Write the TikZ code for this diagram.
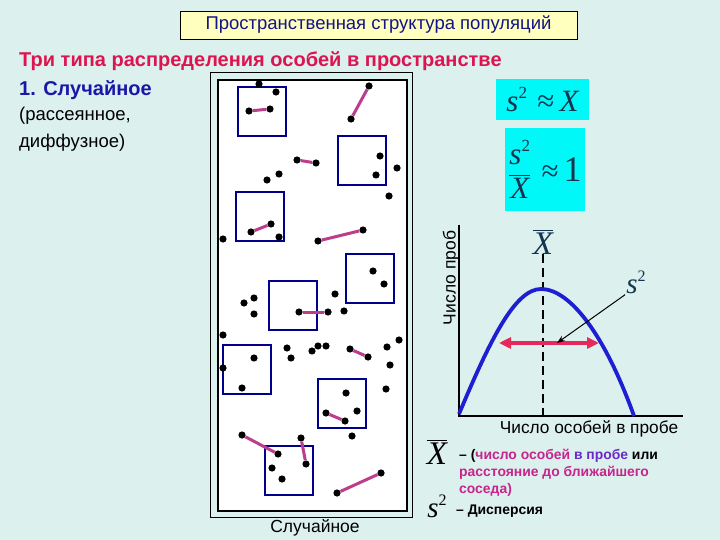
\documentclass[tikz,border=0pt]{standalone}
\usepackage{fontspec}
\setmainfont{Liberation Sans}
\newfontfamily\serifmath{Liberation Serif}
\usetikzlibrary{arrows.meta,positioning}
\definecolor{Paper}{HTML}{DCF0EE}
\definecolor{Cream}{HTML}{FFFFBE}
\definecolor{Navy}{HTML}{14148A}
\definecolor{Crimson}{HTML}{DC1450}
\definecolor{Royal}{HTML}{1818A8}
\definecolor{Frame}{HTML}{00008C}
\definecolor{Bond}{HTML}{BE3C8C}
\definecolor{Curve}{HTML}{1E1ED2}
\definecolor{Spread}{HTML}{E6285A}
\definecolor{Cyan}{HTML}{00F8F8}
\definecolor{Formula}{HTML}{143450}
\definecolor{Magenta}{HTML}{C8248C}
\definecolor{Violet}{HTML}{6A2AC8}
\newcommand{\fsize}[1]{\fontsize{#1}{#1}\selectfont}
\newcommand{\sqr}[2]{{\serifmath\itshape s\raisebox{#2}{\upshape\fsize{#1}2}}}
\newcommand{\xbar}[1]{\leavevmode\vbox{\hrule height #1\kern 2pt\hbox{\serifmath\itshape X}}}
\tikzset{
  titlebox/.style={
    draw=black,fill=Cream,minimum width=397pt,minimum height=28pt,
    font=\fsize{18.5},text=Navy
  },
  formbox/.style={fill=Cyan,inner sep=0pt,text=Formula,font=\serifmath\fsize{31}},
  quadrat/.style={draw=Frame,line width=1.8pt},
  individ/.style={circle,fill=black,inner sep=0pt,minimum size=7.2pt},
  bond/.style={draw=Bond,line width=3pt},
  graphaxis/.style={line width=2.6pt,draw=black},
  curve/.style={line width=3.8pt,draw=Curve},
  spread/.style={{Triangle[length=12pt,width=11pt]}-{Triangle[length=12pt,width=11pt]},
    line width=3.5pt,draw=Spread},
  pointer/.style={-{Stealth[length=8pt,width=6pt]},line width=1pt,draw=black},
  legend/.style={anchor=base west,inner sep=0pt,font=\fsize{13.9}\bfseries}
}

\begin{document}
\begin{tikzpicture}[x=1pt,y=-1pt]
  \useasboundingbox (0,0) rectangle (720,540);
  \fill[Paper] (0,0) rectangle (720,540);

  \node[titlebox] (title) at (378.5,25) {Пространственная структура популяций};
  \node[anchor=base west,inner sep=0pt,font=\fsize{20}\bfseries,text=Crimson] (types) at (19,67)
    {Три типа распределения особей в пространстве};
  \node[anchor=base west,inner sep=0pt,font=\fsize{20}\bfseries,text=Royal] (random) at (19,96) {1. Случайное};
  \node[anchor=base west,inner sep=0pt,font=\fsize{18.5}] (alias1) at (19,121) {(рассеянное,};
  \node[anchor=base west,inner sep=0pt,font=\fsize{18.5}] (alias2) at (19,148) {диффузное)};

  % sample plot
  \draw[line width=0.8pt] (210,72) rectangle (412,517);
  \fill[white] (218,80) rectangle (407,511);
  \draw[line width=2.6pt] (218,80) rectangle (407,511);
  \foreach \qx/\qy in {238/87,338/136,236/192,346/254,269/281,223/345,318/379,265/446}
    \draw[quadrat] (\qx,\qy) rectangle +(48,49);
  \foreach \n/\px/\py in {a1/249/111,a2/270/109,b1/369/86,b2/351/119,c1/297/160,c2/316/163,
      e1/251/232,e2/271/224,f1/318/241,f2/363/230,g1/299/312,g2/328/312,h1/350/349,h2/368/357,
      k1/326/413,k2/345/421,m1/242/435,m2/278/454,n1/301/438,n2/306/464,p1/381/473,p2/337/493}
    \node[individ] (\n) at (\px,\py) {};
  \foreach \px/\py [count=\i] in {259/84,276/92,279/174,267/180,380/156,376/175,397/168,389/196,
      279/237,223/239,373/271,384/284,335/294,254/298,244/303,254/314,344/311,223/335,287/348,
      291/358,312/351,318/346,326/346,387/347,399/340,390/365,254/358,223/368,242/388,386/389,
      346/393,357/411,352/436,272/468,282/479}
    \node[individ] (d\i) at (\px,\py) {};
  \draw[bond] (a1) -- (a2);
  \draw[bond] (b1) -- (b2);
  \draw[bond] (c1) -- (c2);
  \draw[bond] (e1) -- (e2);
  \draw[bond] (f1) -- (f2);
  \draw[bond] (g1) -- (g2);
  \draw[bond] (h1) -- (h2);
  \draw[bond] (k1) -- (k2);
  \draw[bond] (m1) -- (m2);
  \draw[bond] (n1) -- (n2);
  \draw[bond] (p1) -- (p2);
  \node[font=\fsize{17.5}] (plotname) at (315,528) {Случайное};

  % formulas
  \node[formbox,minimum width=93pt,minimum height=41pt] (form1) at (542.5,99.5)
    {\itshape s\raisebox{13pt}{\upshape\fsize{17}2}\,\,\upshape≈\,\itshape X};
  \node[formbox,minimum width=80pt,minimum height=83pt] (form2) at (545,169.5)
    {$\displaystyle\frac{\hbox{\itshape s\raisebox{13pt}{\upshape\fsize{17}2}}}{\hbox{\itshape X}}$\,\,≈\,{\fsize{36}1}};

  % distribution
  \coordinate (origin) at (459,416);
  \coordinate (ytop) at (459,225);
  \coordinate (xend) at (683,416);
  \draw[graphaxis] (ytop) -- (origin) -- (xend);
  \node[rotate=90,font=\fsize{17.5}] (ylab) at (451,278) {Число проб};
  \node[anchor=base,font=\fsize{17.3}] (xlab) at (589,433) {Число особей в пробе};
  \node[inner sep=0pt,text=Formula,font=\fsize{33}] (mean) at (543,242) {\xbar{0.7pt}};
  \draw[graphaxis,dash pattern=on 9pt off 5pt] (mean.south) -- (mean.south |- origin);
  \coordinate (left) at (459,414);
  \coordinate (peak) at (541,289);
  \coordinate (right) at (634,416);
  \draw[curve] (left) .. controls (490,340) and (515,289) .. (peak)
    .. controls (570,289) and (605,335) .. (right);
  \coordinate (sl) at (499,343);
  \coordinate (sr) at (599,343);
  \draw[spread] (sl) -- (sr);
  \node[inner sep=1pt,text=Formula,font=\fsize{29}] (var) at (636,282) {\sqr{16}{12pt}};
  \coordinate (vartip) at (557,343);
  \draw[pointer] (var.south west) -- (vartip);

  % legend
  \node[anchor=base,inner sep=0pt,text=black,font=\fsize{33}] (legmean) at (437,464) {\xbar{0.6pt}};
  \node[legend] (leg1) at (459,459)
    {– (\textcolor{Magenta}{число особей} \textcolor{Violet}{в пробе} или};
  \node[legend,text=Magenta] (leg2) at (459,476) {расстояние до ближайшего};
  \node[legend,text=Magenta] (leg3) at (459,493) {соседа)};
  \node[anchor=base,inner sep=0pt,font=\fsize{29}] (legvar) at (437,517) {\sqr{16}{12pt}};
  \node[legend] (leg4) at (456,514) {– Дисперсия};
\end{tikzpicture}
\end{document}
